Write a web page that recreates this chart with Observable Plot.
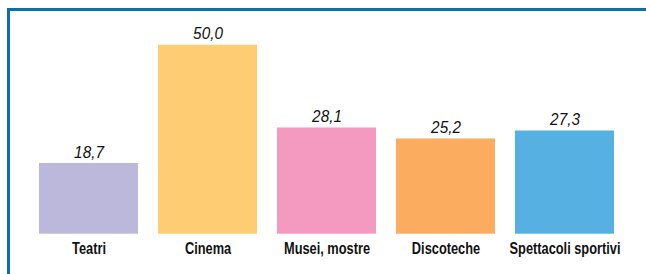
<!DOCTYPE html>
<html>
<head>
<meta charset="utf-8">
<script src="https://cdn.jsdelivr.net/npm/d3@7"></script>
<script src="https://cdn.jsdelivr.net/npm/@observablehq/plot@0.6"></script>
<style>
  html, body { margin: 0; padding: 0; background: #fff; }
  #wrap { position: relative; width: 646px; height: 274px; overflow: hidden; }
  #frame { position: absolute; left: 7px; top: 8px; right: -10px; bottom: -10px;
           border-top: 3px solid #0b6db3; border-left: 3px solid #0b6db3; }
  #chart { position: absolute; left: 0; top: 0; }
  #chart svg { display: block; }
</style>
</head>
<body>
<div id="wrap">
  <div id="frame"></div>
  <div id="chart"></div>
</div>
<script>
const categories = ["Teatri", "Cinema", "Musei, mostre", "Discoteche", "Spettacoli sportivi"];
const values = [18.7, 50.0, 28.1, 25.2, 27.3];
const colors = ["#bcb8db", "#fdcc73", "#f49ac1", "#fbac5f", "#56b0e2"];

const data = categories.map((c, i) => ({ cat: c, val: values[i] }));
const fmt = v => v.toFixed(1).replace(".", ",");

const chart = Plot.plot({
  width: 646,
  height: 274,
  marginLeft: 17.7,
  marginRight: 10.7,
  marginTop: 44.7,
  marginBottom: 40.3,
  x: { domain: categories, padding: 0.17, label: null },
  y: { domain: [0, 50], axis: null },
  color: { domain: categories, range: colors },
  style: { background: "transparent", overflow: "visible" },
  marks: [
    Plot.barY(data, { x: "cat", y: "val", fill: "cat" }),
    Plot.text(data, {
      x: "cat", y: "val", text: d => fmt(d.val),
      dy: -6, lineAnchor: "bottom",
      fontFamily: "'Liberation Sans', Arial, sans-serif",
      fontStyle: "italic", fontSize: 17, fill: "#111"
    }),
    Plot.axisX({
      tickSize: 0, tickPadding: 8, label: null,
      fontFamily: "'Liberation Sans', Arial, sans-serif",
      fontWeight: "bold", fontSize: 16, fill: "#111"
    })
  ]
});
document.getElementById("chart").appendChild(chart);

// condense the glyphs horizontally (narrow typeface look)
function condense(selector, factor) {
  chart.querySelectorAll(selector).forEach(t => {
    const w = t.getComputedTextLength();
    t.setAttribute("textLength", (w * factor).toFixed(2));
    t.setAttribute("lengthAdjust", "spacingAndGlyphs");
  });
}
condense('g[aria-label="x-axis tick label"] text', 0.8);
condense('g[aria-label="text"] text', 0.9);
</script>
</body>
</html>
